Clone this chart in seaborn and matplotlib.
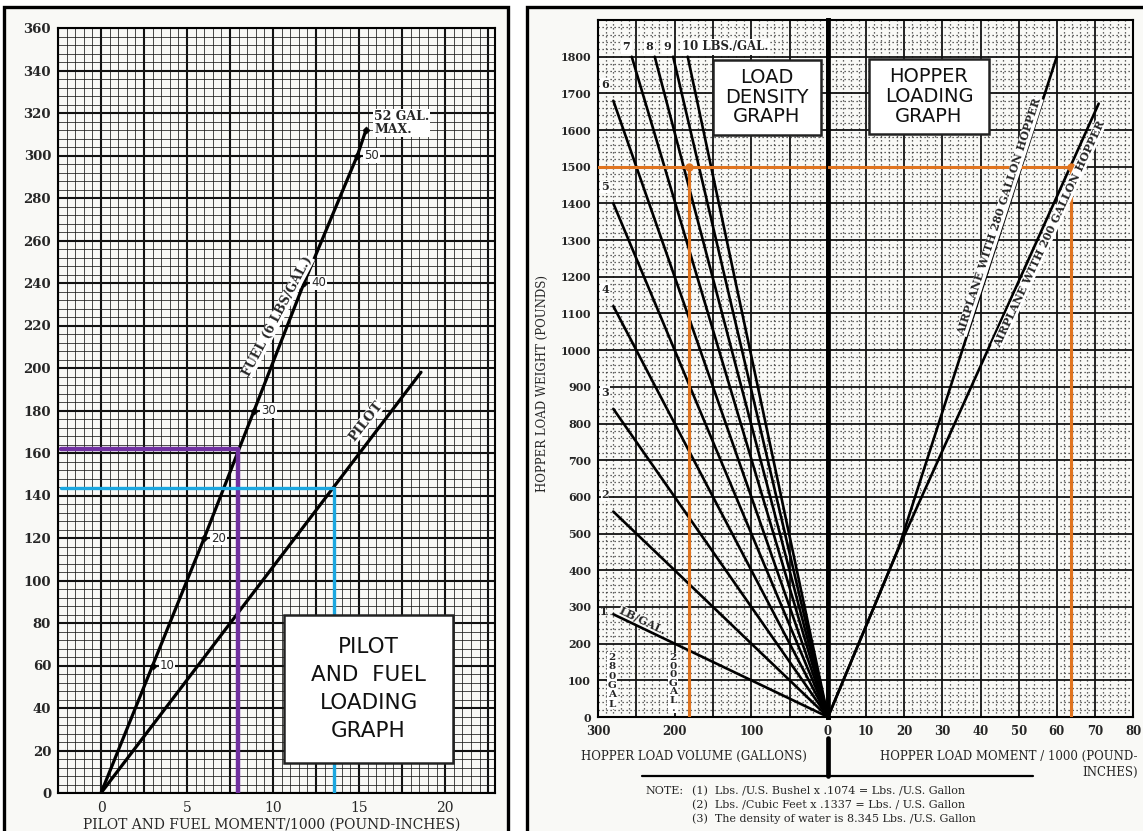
import numpy as np
import pandas as pd
import seaborn as sns
import matplotlib.pyplot as plt
from matplotlib.patches import Rectangle
from matplotlib.lines import Line2D

W, H = 1143, 831

# ---- pilot and fuel loading graph (left) ----
fuel_gal = [0, 10, 20, 30, 40, 50, 52]
fuel_lb = [0, 60, 120, 180, 240, 300, 312]
fuel_moment = [0, 3.0, 6.0, 8.9, 11.8, 14.9, 15.4]
pilot_lb = [0, 198]
pilot_moment = [0, 18.6]
purple_lb, purple_moment = 162, 7.95
cyan_lb, cyan_moment = 143.5, 13.55
left_yticks = list(range(0, 361, 20))
left_xlabels = [0, 5, 10, 15, 20]

# ---- load density / hopper loading graph (right) ----
density = [1, 2, 3, 4, 5, 6, 7, 8, 9, 10]
density_end_gal = [280, 280, 280, 280, 280, 280, 256, 226, 202, 183]
density_end_lb = [280, 560, 840, 1120, 1400, 1680, 1800, 1800, 1800, 1800]
hop280_moment = [0, 18.5, 60]
hop280_lb = [0, 460, 1800]
hop200_moment = [0, 18.5, 71]
hop200_lb = [0, 460, 1672]
orange_lb, orange_gal, orange_moment = 1500, 181, 63.7
right_yticks = list(range(0, 1801, 100))
vol_labels = [300, 200, 100, 0]
mom_labels = [10, 20, 30, 40, 50, 60, 70, 80]

PURPLE = "#7030a0"
CYAN = "#1aa7e0"
ORANGE = "#e0741f"
PAPER = "#f9f9f6"

sns.set_theme(style="white")
plt.rcParams['font.family'] = ['DejaVu Serif']


def fx(x):
    return x / W


def fy(y):
    return 1 - y / H


fig = plt.figure(figsize=(W / 100, H / 100), dpi=100, facecolor="white")

# paper sheets + frames
fig.patches.append(Rectangle((fx(4), -0.05), fx(508) - fx(4), fy(7) + 0.05, transform=fig.transFigure,
                             facecolor=PAPER, edgecolor="black", lw=2.4, zorder=-10))
fig.patches.append(Rectangle((fx(527), -0.05), 1.05 - fx(527), fy(7) + 0.05, transform=fig.transFigure,
                             facecolor=PAPER, edgecolor="black", lw=2.4, zorder=-10))

axL = fig.add_axes([fx(58), fy(793), fx(495) - fx(58), fy(28) - fy(793)])
axV = fig.add_axes([fx(598), fy(717), fx(828) - fx(598), fy(20) - fy(717)])
axM = fig.add_axes([fx(828), fy(717), fx(1133) - fx(828), fy(20) - fy(717)])

for ax in (axL, axV, axM):
    ax.set_facecolor(PAPER)
    ax.set_axisbelow(True)
    ax.tick_params(which="both", length=0)
    for s in ax.spines.values():
        s.set_color("black")
        s.set_linewidth(1.5)

# ---------------- left graph ----------------
axL.set_xlim(-2.3, 22.9)
axL.set_ylim(0, 360)
xt = np.arange(-2.5, 23, 2.5)
axL.set_xticks(xt, labels=[f"{v:.0f}" if round(v) in left_xlabels and abs(v - round(v)) < 1e-6 else "" for v in xt],
               fontsize=10)
axL.set_xticks(np.arange(-2.5, 23, 0.5), minor=True)
axL.set_yticks(left_yticks, labels=[str(v) for v in left_yticks], fontsize=9.5, fontweight="bold")
axL.set_yticks(np.arange(0, 361, 4), minor=True)
axL.tick_params(axis="x", pad=6)
axL.tick_params(axis="y", pad=5)
axL.grid(which="major", color="#111111", lw=1.5)
axL.grid(which="minor", color="#1a1a1a", lw=0.55)

sns.lineplot(x=fuel_moment, y=fuel_lb, ax=axL, color="black", lw=2.3, estimator=None, sort=False, zorder=5)
sns.lineplot(x=pilot_moment, y=pilot_lb, ax=axL, color="black", lw=2.3, estimator=None, sort=False, zorder=5)
sns.scatterplot(x=fuel_moment[1:], y=fuel_lb[1:], ax=axL, color="black", marker="D", s=14, zorder=6,
                edgecolor="black")

sns.lineplot(x=[-2.3, purple_moment, purple_moment], y=[purple_lb, purple_lb, 0], ax=axL, color=PURPLE,
             lw=3.2, estimator=None, sort=False, zorder=7)
sns.lineplot(x=[-2.3, cyan_moment, cyan_moment], y=[cyan_lb, cyan_lb, 0], ax=axL, color=CYAN,
             lw=2.4, estimator=None, sort=False, zorder=7)

wbox = dict(facecolor="white", edgecolor="none", pad=0.6)
for g, lb, m in zip(fuel_gal[1:6], fuel_lb[1:6], fuel_moment[1:6]):
    axL.annotate(str(g), (m, lb), xytext=(5, 0), textcoords="offset points", ha="left", va="center",
                 fontsize=8.5, family="DejaVu Sans", bbox=wbox, zorder=8)
axL.annotate("52 GAL.\nMAX.", (fuel_moment[-1], fuel_lb[-1]), xytext=(6, 5), textcoords="offset points",
             ha="left", va="center", fontsize=9, fontweight="bold", linespacing=1.0, bbox=wbox, zorder=8)
axL.text(10.26, 224.5, "FUEL (6 LBS/GAL.)", rotation=62, ha="center", va="center", rotation_mode="anchor",
         fontsize=9, fontweight="bold", bbox=dict(facecolor="white", edgecolor="none", pad=0.2), zorder=8)
axL.text(15.39, 175, "PILOT", rotation=52, ha="center", va="center", rotation_mode="anchor",
         fontsize=9.5, fontweight="bold", bbox=dict(facecolor="white", edgecolor="none", pad=0.2), zorder=8)

axL.add_patch(Rectangle((10.65, 14), 9.8, 70, facecolor="white", edgecolor="#222222", lw=1.8, zorder=9))
axL.text(15.55, 49, "PILOT\nAND  FUEL\nLOADING\nGRAPH", ha="center", va="center", fontsize=15.5,
         family="DejaVu Sans", linespacing=1.5, zorder=10, color="#111111")
axL.set_xlabel("")
axL.set_ylabel("")

fig.text(fx(272), fy(825), "PILOT AND FUEL MOMENT/1000 (POUND-INCHES)", ha="center", va="center",
         fontsize=10)

# ---------------- right graph ----------------
for ax in (axV, axM):
    ax.set_ylim(0, 1900)
    ax.set_yticks(np.arange(0, 1901, 20), minor=True)
    ax.grid(which="major", color="#111111", lw=1.3)
    ax.grid(which="minor", color="#333333", lw=0.9, linestyle=(0, (1, 2.2)))
    ax.tick_params(axis="x", pad=6)

axV.set_xlim(300, 0)
vt = np.arange(0, 301, 50)
axV.set_xticks(vt, labels=[str(v) if v in vol_labels else "" for v in vt], fontsize=8.5, fontweight="bold")
axV.set_xticks(np.arange(0, 301, 10), minor=True)
axV.set_yticks(np.arange(0, 1901, 100),
               labels=[str(v) if v in right_yticks else "" for v in range(0, 1901, 100)],
               fontsize=8, fontweight="bold")
axV.tick_params(axis="y", pad=5)

axM.set_xlim(0, 80)
mt = np.arange(0, 81, 10)
axM.set_xticks(mt, labels=[str(v) if v in mom_labels else "" for v in mt], fontsize=8.5, fontweight="bold")
axM.set_xticks(np.arange(0, 81, 2), minor=True)
axM.set_yticks(np.arange(0, 1901, 100), labels=[])

axV.spines["right"].set_linewidth(3.4)
axM.spines["left"].set_linewidth(3.4)

dens = pd.DataFrame({
    "density": np.repeat(density, 2),
    "gal": np.ravel([[0, g] for g in density_end_gal]),
    "lb": np.ravel([[0, w] for w in density_end_lb]),
})
sns.lineplot(data=dens, x="gal", y="lb", units="density", estimator=None, sort=False, ax=axV,
             color="black", lw=1.9, zorder=5)

sns.lineplot(x=hop280_moment, y=hop280_lb, ax=axM, color="black", lw=1.9, estimator=None, sort=False, zorder=5)
sns.lineplot(x=hop200_moment, y=hop200_lb, ax=axM, color="black", lw=1.9, estimator=None, sort=False, zorder=5)

# orange read-off lines
sns.lineplot(x=[300, 0], y=[orange_lb, orange_lb], ax=axV, color=ORANGE, lw=2.2, estimator=None, sort=False, zorder=7)
sns.lineplot(x=[orange_gal, orange_gal], y=[orange_lb, 0], ax=axV, color=ORANGE, lw=2.2, estimator=None,
             sort=False, zorder=7)
sns.lineplot(x=[0, orange_moment], y=[orange_lb, orange_lb], ax=axM, color=ORANGE, lw=2.2, estimator=None,
             sort=False, zorder=7)
sns.lineplot(x=[orange_moment, orange_moment], y=[orange_lb, 0], ax=axM, color=ORANGE, lw=2.2, estimator=None,
             sort=False, zorder=7)
axV.plot([orange_gal], [orange_lb], "o", color=ORANGE, ms=5, zorder=8)
axM.plot([orange_moment], [orange_lb], "o", color=ORANGE, ms=5, zorder=8)

# density labels
axV.annotate("1", (density_end_gal[0], density_end_lb[0]), xytext=(-7, 2), textcoords="offset points",
             ha="center", va="center", fontsize=8, fontweight="bold")
axV.text(242, 262, "LB/GAL.", rotation=-25.6, rotation_mode="anchor", ha="center", va="center",
         fontsize=8, fontweight="bold", bbox=dict(facecolor=PAPER, edgecolor="none", pad=0.1))
for d, g, w in zip(density[1:6], density_end_gal[1:6], density_end_lb[1:6]):
    axV.annotate(str(d), (g, w), xytext=(-6, 12), textcoords="offset points", ha="center", va="center",
                 fontsize=8, fontweight="bold", bbox=dict(facecolor="white", edgecolor="none", pad=0.5))
top_box = dict(facecolor="white", edgecolor="none", pad=1.2)
for d, g, w in zip(density[6:9], density_end_gal[6:9], density_end_lb[6:9]):
    axV.annotate(str(d), (g, w), xytext=(-4, 7), textcoords="offset points", ha="center", va="center",
                 fontsize=8, fontweight="bold", bbox=top_box)
axV.annotate("10 LBS./GAL.", (density_end_gal[9], density_end_lb[9]), xytext=(-4, 7), textcoords="offset points",
             ha="left", va="center", fontsize=8.5, fontweight="bold", bbox=top_box)

axV.text(282, 99, "2\n8\n0\nG\nA\nL", ha="center", va="center", fontsize=7.5, fontweight="bold",
         linespacing=1.05, bbox=dict(facecolor="white", edgecolor="none", pad=0.3), zorder=6)
axV.text(202, 92, "2\n0\n0\nG\nA\nL\n.", ha="center", va="center", fontsize=7.5, fontweight="bold",
         linespacing=0.92, bbox=dict(facecolor="white", edgecolor="none", pad=0.3), zorder=6)

axM.text(45.0, 1364, "AIRPLANE WITH 280 GALLON HOPPER", rotation=72, rotation_mode="anchor", ha="center",
         va="center", fontsize=8, fontweight="bold", bbox=dict(facecolor="white", edgecolor="none", pad=0.2),
         zorder=8)
axM.text(58.0, 1317, "AIRPLANE WITH 200 GALLON HOPPER", rotation=65, rotation_mode="anchor", ha="center",
         va="center", fontsize=8, fontweight="bold", bbox=dict(facecolor="white", edgecolor="none", pad=0.2),
         zorder=8)

axV.add_patch(Rectangle((9, 1587), 141, 205, facecolor="white", edgecolor="#222222", lw=1.8, zorder=9))
axV.text(79.5, 1690, "LOAD\nDENSITY\nGRAPH", ha="center", va="center", fontsize=14, family="DejaVu Sans",
         linespacing=1.05, zorder=10, color="#111111")
axM.add_patch(Rectangle((10.7, 1590), 31.6, 204, facecolor="white", edgecolor="#222222", lw=1.8, zorder=9))
axM.text(26.5, 1692, "HOPPER\nLOADING\nGRAPH", ha="center", va="center", fontsize=14, family="DejaVu Sans",
         linespacing=1.05, zorder=10, color="#111111")

for ax in (axV, axM):
    ax.set_xlabel("")
    ax.set_ylabel("")

# axis captions and notes below right graph
fig.add_artist(Line2D([fx(828), fx(828)], [fy(738), fy(776)], color="black", lw=3.4))
fig.add_artist(Line2D([fx(642), fx(1033)], [fy(776), fy(776)], color="black", lw=1.6))
fig.text(fx(694), fy(756), "HOPPER LOAD VOLUME (GALLONS)", ha="center", va="center", fontsize=8.5)
fig.text(fx(1138), fy(756), "HOPPER LOAD MOMENT / 1000 (POUND-", ha="right", va="center", fontsize=8.5)
fig.text(fx(1138), fy(772), "INCHES)", ha="right", va="center", fontsize=8.5)
fig.text(fx(645), fy(791), "NOTE:", ha="left", va="center", fontsize=8)
fig.text(fx(692), fy(791), "(1)  Lbs. /U.S. Bushel x .1074 = Lbs. /U.S. Gallon", ha="left", va="center", fontsize=8)
fig.text(fx(692), fy(805), "(2)  Lbs. /Cubic Feet x .1337 = Lbs. / U.S. Gallon", ha="left", va="center", fontsize=8)
fig.text(fx(692), fy(819), "(3)  The density of water is 8.345 Lbs. /U.S. Gallon", ha="left", va="center",
         fontsize=8)
fig.text(fx(542), fy(383), "HOPPER LOAD WEIGHT (POUNDS)", rotation=90, ha="center", va="center", fontsize=8.5)

fig.savefig("out.png", dpi=100, facecolor=fig.get_facecolor())
